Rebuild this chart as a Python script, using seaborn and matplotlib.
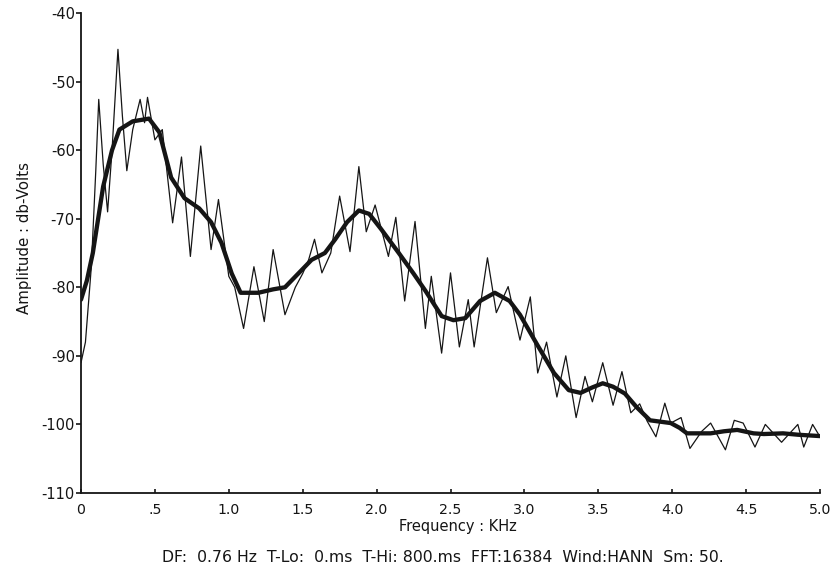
import numpy as np
import pandas as pd
import matplotlib
matplotlib.use("Agg")
import matplotlib.pyplot as plt
import seaborn as sns

# ---- data ----
raw_freq = [0.00, 0.03, 0.07, 0.10, 0.12, 0.15, 0.18, 0.21, 0.25, 0.28, 0.31, 0.35,
            0.40, 0.43, 0.45, 0.50, 0.55, 0.62, 0.68, 0.74, 0.81, 0.88, 0.93, 1.00,
            1.04, 1.10, 1.17, 1.24, 1.30, 1.38, 1.45, 1.50, 1.54, 1.58, 1.63, 1.69,
            1.75, 1.82, 1.88, 1.93, 1.99, 2.08, 2.13, 2.19, 2.26, 2.33, 2.37, 2.44,
            2.50, 2.56, 2.62, 2.66, 2.75, 2.81, 2.89, 2.97, 3.04, 3.09, 3.15, 3.22,
            3.28, 3.35, 3.41, 3.46, 3.53, 3.60, 3.66, 3.72, 3.78, 3.83, 3.89, 3.95,
            3.99, 4.06, 4.12, 4.20, 4.26, 4.36, 4.42, 4.48, 4.56, 4.63, 4.74, 4.85,
            4.89, 4.95, 5.00]
raw_amp = [-91.0, -88.0, -77.0, -63.0, -52.6, -62.0, -69.0, -60.0, -45.3, -55.0, -63.0, -57.0,
           -52.6, -56.0, -52.3, -58.5, -57.0, -70.6, -61.0, -75.5, -59.4, -74.5, -67.2, -78.4,
           -80.0, -86.0, -77.0, -85.0, -74.5, -84.0, -80.0, -78.0, -76.0, -73.0, -77.9, -75.0,
           -66.7, -74.8, -62.4, -71.9, -68.0, -75.5, -69.8, -82.0, -70.4, -86.0, -78.4, -89.6,
           -77.9, -88.7, -81.8, -88.7, -75.7, -83.7, -79.9, -87.7, -81.4, -92.5, -88.0, -96.0,
           -90.0, -99.0, -93.0, -96.7, -91.0, -97.2, -92.3, -98.3, -97.0, -99.5, -101.8, -96.9,
           -99.8, -99.0, -103.5, -101.0, -99.8, -103.7, -99.4, -99.8, -103.3, -100.0, -102.6, -100.0,
           -103.3, -100.0, -101.8]

smooth_freq = [0.00, 0.04, 0.08, 0.15, 0.21, 0.26, 0.35, 0.46, 0.53, 0.61, 0.70, 0.80,
               0.88, 0.95, 1.02, 1.08, 1.20, 1.30, 1.38, 1.47, 1.56, 1.65, 1.72, 1.80,
               1.88, 1.95, 2.03, 2.15, 2.25, 2.33, 2.44, 2.52, 2.60, 2.70, 2.80, 2.90,
               2.97, 3.09, 3.20, 3.30, 3.38, 3.46, 3.53, 3.60, 3.68, 3.76, 3.85, 3.99,
               4.05, 4.10, 4.26, 4.35, 4.44, 4.55, 4.62, 4.75, 4.85, 5.00]
smooth_amp = [-81.8, -79.0, -75.0, -65.3, -60.0, -57.0, -55.8, -55.4, -57.4, -64.0, -67.0, -68.5,
              -70.5, -73.5, -78.0, -80.8, -80.8, -80.3, -80.0, -78.0, -76.0, -75.0, -73.0, -70.5,
              -68.8, -69.3, -71.5, -75.0, -78.0, -80.5, -84.2, -84.8, -84.5, -82.0, -80.8, -82.0,
              -84.0, -88.5, -92.5, -95.0, -95.4, -94.6, -94.0, -94.5, -95.5, -97.5, -99.4, -99.8,
              -100.5, -101.3, -101.3, -101.0, -100.8, -101.3, -101.4, -101.3, -101.5, -101.7]

x_ticks = [0, 0.5, 1.0, 1.5, 2.0, 2.5, 3.0, 3.5, 4.0, 4.5, 5.0]
x_tick_labels = ["0", ".5", "1.0", "1.5", "2.0", "2.5", "3.0", "3.5", "4.0", "4.5", "5.0"]
y_ticks = [-40, -50, -60, -70, -80, -90, -100, -110]

footer = "DF:  0.76 Hz  T-Lo:  0.ms  T-Hi: 800.ms  FFT:16384  Wind:HANN  Sm: 50."

raw_df = pd.DataFrame({"freq": raw_freq, "amp": raw_amp})
smooth_df = pd.DataFrame({"freq": smooth_freq, "amp": smooth_amp})

sns.set_style("ticks")
plt.rcParams["font.family"] = ["DejaVu Sans"]
plt.rcParams["axes.unicode_minus"] = False

ink = "#151515"
x0, x1, y0, y1 = 81, 820, 13, 493
fig = plt.figure(figsize=(8.33, 5.67), dpi=100)
ax = fig.add_axes([x0 / 833, 1 - y1 / 567, (x1 - x0) / 833, (y1 - y0) / 567])

sns.lineplot(data=raw_df, x="freq", y="amp", ax=ax, color=ink, linewidth=0.9,
             sort=False, estimator=None)
sns.lineplot(data=smooth_df, x="freq", y="amp", ax=ax, color=ink, linewidth=3.1,
             sort=False, estimator=None)

ax.set_xlim(0, 5)
ax.set_ylim(-110, -40)
ax.set_xticks(x_ticks)
ax.set_xticklabels(x_tick_labels)
ax.set_yticks(y_ticks)

for side in ["top", "right"]:
    ax.spines[side].set_visible(False)
for side in ["left", "bottom"]:
    ax.spines[side].set_linewidth(1.3)
    ax.spines[side].set_color(ink)

ax.tick_params(axis="x", direction="in", length=3, width=1.2, pad=7,
               labelsize=10.2, colors=ink)
ax.tick_params(axis="y", direction="out", length=3.5, width=1.2, pad=1,
               labelsize=10.5, colors=ink)

ax.set_xlabel("Frequency : KHz", fontsize=10.5, color=ink)
ax.xaxis.label.set_va("center")
ax.xaxis.set_label_coords((458 - x0) / (x1 - x0), (y1 - 527) / (y1 - y0))

ax.set_ylabel("Amplitude : db-Volts", fontsize=10.8, color=ink)
ax.yaxis.label.set_va("center")
ax.yaxis.set_label_coords((25 - x0) / (x1 - x0), (y1 - 238) / (y1 - y0))

fig.text(162 / 833, 1 - 557 / 567, footer, fontsize=11.3, color=ink,
         ha="left", va="center")

fig.savefig("out.png", dpi=100, facecolor="white")
